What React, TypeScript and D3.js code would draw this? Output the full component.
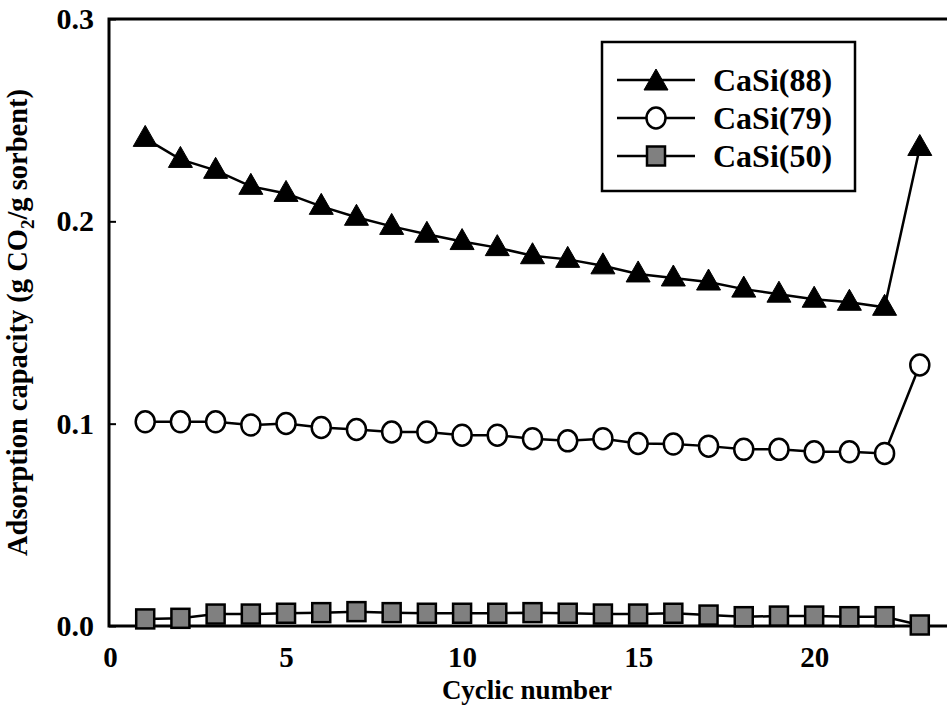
import React, { useRef, useEffect } from 'react';
import * as d3 from 'd3';

// cycle numbers 1..23
const cycles = [1, 2, 3, 4, 5, 6, 7, 8, 9, 10, 11, 12, 13, 14, 15, 16, 17, 18, 19, 20, 21, 22, 23];

const casi88 = [0.241, 0.2306, 0.2252, 0.2173, 0.2138, 0.2074, 0.202, 0.1975, 0.1936, 0.190, 0.187,
  0.183, 0.1812, 0.178, 0.174, 0.172, 0.170, 0.1665, 0.164, 0.1615, 0.160, 0.1575, 0.2365];

const casi79 = [0.1009, 0.1009, 0.1009, 0.0993, 0.1001, 0.0981, 0.0971, 0.0959, 0.0959, 0.0943, 0.0943,
  0.0926, 0.0915, 0.0926, 0.0902, 0.0899, 0.0889, 0.0873, 0.0873, 0.0861, 0.0861, 0.0853, 0.129];

const casi50 = [0.0035, 0.0038, 0.0059, 0.0059, 0.0063, 0.0066, 0.0071, 0.0066, 0.0063, 0.0063, 0.0063,
  0.0066, 0.0063, 0.0059, 0.0059, 0.0063, 0.0054, 0.0046, 0.0049, 0.0049, 0.0046, 0.0046, 0.0005];

const seriesNames = ['CaSi(88)', 'CaSi(79)', 'CaSi(50)'];
const xTicks = [0, 5, 10, 15, 20];
const yTicks = [0, 0.1, 0.2, 0.3];

const FONT = '"Liberation Serif", "Times New Roman", serif';

// draw a marker of the given kind centred at (cx, cy)
function drawMarker(g, kind, cx, cy) {
  if (kind === 'triangle') {
    g.append('path')
      .attr('d', `M${cx},${cy - 13}L${cx + 12},${cy + 8}L${cx - 12},${cy + 8}Z`)
      .attr('fill', '#000')
      .attr('stroke', '#000')
      .attr('stroke-width', 1);
  } else if (kind === 'circle') {
    g.append('ellipse')
      .attr('cx', cx).attr('cy', cy)
      .attr('rx', 9.5).attr('ry', 10.5)
      .attr('fill', '#fff')
      .attr('stroke', '#000')
      .attr('stroke-width', 2.5);
  } else {
    g.append('rect')
      .attr('x', cx - 9).attr('y', cy - 9.5)
      .attr('width', 18).attr('height', 19)
      .attr('fill', '#808080')
      .attr('stroke', '#000')
      .attr('stroke-width', 2.5);
  }
}

function AdsorptionChart() {
  const svgRef = useRef(null);

  useEffect(() => {
    const width = 947;
    const height = 710;
    const left = 110, right = 955, top = 19, bottom = 626;

    const svg = d3.select(svgRef.current)
      .attr('width', width)
      .attr('height', height);
    svg.selectAll('*').remove();

    const x = d3.scaleLinear().domain([0, 24]).range([left, right]);
    const y = d3.scaleLinear().domain([0, 0.3]).range([bottom, top]);

    // frame
    svg.append('path')
      .attr('d', `M${right},${top}H${left - 1}V${bottom}H${right}`)
      .attr('fill', 'none')
      .attr('stroke', '#000')
      .attr('stroke-width', 3);

    // y axis
    const yAxis = svg.append('g')
      .attr('transform', `translate(${left - 1},0)`)
      .call(d3.axisLeft(y).tickValues(yTicks).tickFormat(d3.format('.1f'))
        .tickSizeInner(-7).tickSizeOuter(0).tickPadding(15));
    yAxis.select('.domain').remove();
    yAxis.selectAll('line').attr('stroke-width', 2);
    yAxis.selectAll('text')
      .style('font-family', FONT).style('font-size', '30px').style('font-weight', 'bold')
      .attr('fill', '#000');

    // x axis
    const xAxis = svg.append('g')
      .attr('transform', `translate(0,${bottom})`)
      .call(d3.axisBottom(x).tickValues(xTicks).tickFormat(d3.format('d'))
        .tickSize(0).tickPadding(20));
    xAxis.select('.domain').remove();
    xAxis.selectAll('text')
      .style('font-family', FONT).style('font-size', '29px').style('font-weight', 'bold')
      .attr('fill', '#000');

    // axis titles
    svg.append('text')
      .attr('x', 527).attr('y', 699)
      .attr('text-anchor', 'middle')
      .style('font-family', FONT).style('font-size', '27px').style('font-weight', 'bold')
      .text('Cyclic number');

    const yTitle = svg.append('text')
      .attr('transform', `translate(27,${(top + bottom) / 2}) rotate(-90)`)
      .attr('text-anchor', 'middle')
      .style('font-family', FONT).style('font-size', '28.5px').style('font-weight', 'bold');
    yTitle.append('tspan').text('Adsorption capacity (g CO');
    yTitle.append('tspan').attr('dy', 7).style('font-size', '19px').text('2');
    yTitle.append('tspan').attr('dy', -7).text('/g sorbent)');

    // series
    const series = [
      { name: seriesNames[0], values: casi88, kind: 'triangle' },
      { name: seriesNames[1], values: casi79, kind: 'circle' },
      { name: seriesNames[2], values: casi50, kind: 'square' },
    ];

    const line = d3.line()
      .x(d => x(d[0]))
      .y(d => y(d[1]));

    series.forEach(s => {
      const pts = cycles.map((c, i) => [c, s.values[i]]);
      const g = svg.append('g');
      g.append('path')
        .attr('d', line(pts))
        .attr('fill', 'none')
        .attr('stroke', '#000')
        .attr('stroke-width', 2.5);
      pts.forEach(p => drawMarker(g, s.kind, x(p[0]), y(p[1])));
    });

    // legend
    const lg = svg.append('g');
    lg.append('rect')
      .attr('x', 602).attr('y', 42)
      .attr('width', 253).attr('height', 149)
      .attr('fill', '#fff')
      .attr('stroke', '#000')
      .attr('stroke-width', 2.5);
    const rowY = [80, 118, 156];
    series.forEach((s, i) => {
      lg.append('line')
        .attr('x1', 617).attr('x2', 695)
        .attr('y1', rowY[i]).attr('y2', rowY[i])
        .attr('stroke', '#000').attr('stroke-width', 2.5);
      drawMarker(lg, s.kind, 656, rowY[i] + (s.kind === 'triangle' ? 2 : 0));
      lg.append('text')
        .attr('x', 713).attr('y', rowY[i])
        .attr('dy', '0.35em')
        .style('font-family', FONT).style('font-size', '32px').style('font-weight', 'bold')
        .text(s.name);
    });
  }, []);

  return (
    <svg ref={svgRef} style={{ position: 'absolute', left: 0, top: 0, background: '#fff' }}></svg>
  );
}

export default function App() {
  return <AdsorptionChart />;
}
